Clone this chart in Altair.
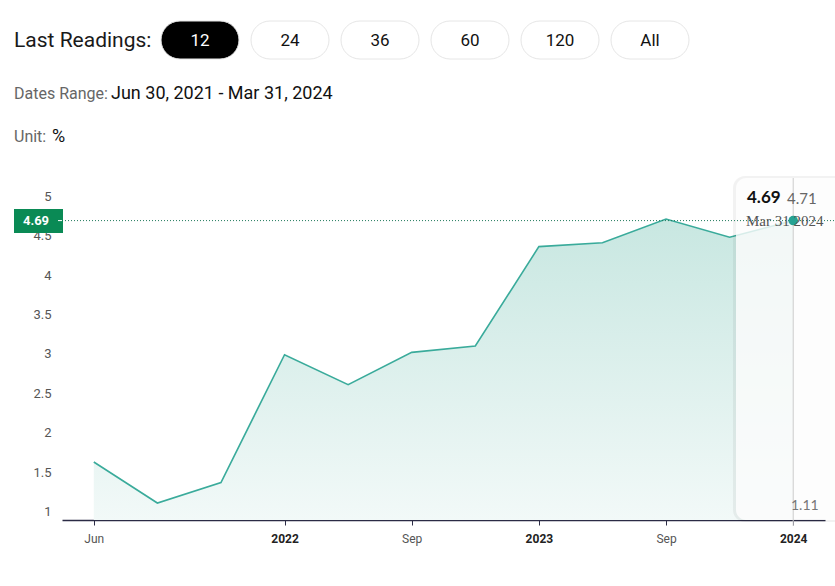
import altair as alt
import pandas as pd

# ---- data ----
dates = ["2021-06-30", "2021-09-30", "2021-12-31", "2022-03-31", "2022-06-30", "2022-09-30",
         "2022-12-31", "2023-03-31", "2023-06-30", "2023-09-30", "2023-12-31", "2024-03-31"]
values = [1.63, 1.11, 1.37, 2.99, 2.61, 3.02, 3.10, 4.36, 4.41, 4.71, 4.48, 4.69]
tick_index = [0, 3, 5, 7, 9, 11]
tick_labels = ["Jun", "2022", "Sep", "2023", "Sep", "2024"]
year_ticks = [3, 7, 11]
y_ticks = [1, 1.5, 2, 2.5, 3, 3.5, 4, 4.5, 5]
buttons = ["12", "24", "36", "60", "120", "All"]

last_value = values[-1]
max_value = max(values)
min_value = min(values)

W, H = 763, 342
LEFT, TOP = 62, 178

df = pd.DataFrame({"date": dates, "value": values})
df["idx"] = range(len(df))

label_map = "{" + ",".join(f"'{i}':'{l}'" for i, l in zip(tick_index, tick_labels)) + "}"
year_test = " || ".join(f"datum.value == {v}" for v in year_ticks)

xscale = alt.Scale(domain=[-0.5, 11.5], nice=False, zero=False)
yscale = alt.Scale(domain=[0.895, 5.23], nice=False, zero=False)

x_enc = alt.X("idx:Q", scale=xscale, axis=alt.Axis(
    values=tick_index, labelExpr=f"{label_map}[datum.value+'']", title=None, grid=False,
    domainColor="#2b2b45", domainWidth=1.5, tickColor="#2b2b45", tickSize=5, tickWidth=1,
    labelFont="Roboto", labelFontSize=12, labelPadding=8,
    labelColor={"condition": {"test": year_test, "value": "#222222"}, "value": "#555555"},
    labelFontWeight={"condition": {"test": year_test, "value": "bold"}, "value": "normal"},
))
y_enc = alt.Y("value:Q", scale=yscale, axis=alt.Axis(
    values=y_ticks, format="~g", title=None, grid=False, domain=False, ticks=False,
    labelFont="Roboto", labelFontSize=13, labelColor="#555555", labelPadding=11,
))

grad = alt.Gradient(gradient="linear",
                    stops=[alt.GradientStop(color="#f2f9f8", offset=0),
                           alt.GradientStop(color="#c8e7e1", offset=1)],
                    x1=1, x2=1, y1=1, y2=0)

base = alt.Chart(df)
area = base.mark_area(color=grad, line=False).encode(x=x_enc, y=y_enc, y2=alt.datum(0.895))
line = base.mark_line(color="#3aab9b", strokeWidth=1.6).encode(x="idx:Q", y="value:Q")

last_df = df.tail(1)

# tooltip panel (single row so only one rect is drawn)
shadow = alt.Chart(last_df).mark_rect(fill="#000000", fillOpacity=0.05, strokeWidth=0, cornerRadius=12).encode(
    x=alt.value(736 - LEFT - 3), x2=alt.value(W + 40), y=alt.value(-2), y2=alt.value(H + 2))
panel = alt.Chart(last_df).mark_rect(fill="#ffffff", fillOpacity=0.8, strokeWidth=0, cornerRadius=10).encode(
    x=alt.value(736 - LEFT), x2=alt.value(W + 40), y=alt.value(0), y2=alt.value(H))

vrule = alt.Chart(last_df).mark_rule(color="#cccccc", strokeWidth=1).encode(
    x="idx:Q", y=alt.value(0), y2=alt.value(H + 6))
hrule = alt.Chart(last_df).mark_rule(color="#1f7a5c", strokeWidth=1, strokeDash=[1, 2]).encode(
    x=alt.value(0), x2=alt.value(W + 20), y="value:Q")
dot = alt.Chart(last_df).mark_point(filled=True, color="#26a293", size=90, opacity=1).encode(
    x="idx:Q", y="value:Q")

tip_main = alt.Chart(last_df).mark_text(font="Lato", fontSize=17, fontWeight="bold", color="#111111",
                                        align="left", baseline="middle").encode(
    x=alt.value(747 - LEFT), y=alt.value(198 - TOP), text=alt.Text("value:Q", format=".2f"))
tip_max = alt.Chart(pd.DataFrame({"v": [max_value]})).mark_text(
    font="Lato", fontSize=15, color="#666666", align="left", baseline="middle").encode(
    x=alt.value(787 - LEFT), y=alt.value(199 - TOP), text=alt.Text("v:Q", format=".2f"))
tip_date = alt.Chart(pd.DataFrame({"t": ["Mar 31 2024"]})).mark_text(
    font="Liberation Serif", fontSize=15, color="#555555", align="left", baseline="middle").encode(
    x=alt.value(746 - LEFT), y=alt.value(221 - TOP), text="t:N")
tip_min = alt.Chart(pd.DataFrame({"v": [min_value]})).mark_text(
    font="Lato", fontSize=14, color="#777777", align="left", baseline="middle").encode(
    x=alt.value(791 - LEFT), y=alt.value(506 - TOP), text=alt.Text("v:Q", format=".2f"))

# green value badge on the y axis
badge = alt.Chart(last_df).mark_rect(fill="#0a8a55", strokeWidth=0).encode(
    x=alt.value(14 - LEFT), x2=alt.value(63 - LEFT), y=alt.value(209 - TOP), y2=alt.value(233 - TOP))
badge_tick = alt.Chart(last_df).mark_rule(color="#ffffff", strokeWidth=1).encode(
    x=alt.value(58 - LEFT), x2=alt.value(62 - LEFT), y="value:Q")
badge_text = alt.Chart(last_df).mark_text(font="Roboto", fontSize=13, fontWeight="bold", color="#ffffff",
                                          align="center", baseline="middle").encode(
    x=alt.value(36 - LEFT), y=alt.value(221 - TOP), text=alt.Text("value:Q", format=".2f"))

# header
bdf = pd.DataFrame({"label": buttons})
bdf["i"] = range(len(bdf))
btn_base = alt.Chart(bdf).transform_calculate(
    x0=f"161 + datum.i * 90 - {LEFT}", x1=f"239 + datum.i * 90 - {LEFT}",
    xc=f"200 + datum.i * 90 - {LEFT}", active="datum.i == 0")
btn_rect = btn_base.mark_rect(cornerRadius=19, stroke="#e6e6e6", strokeWidth=1).encode(
    x=alt.X("x0:Q", scale=None), x2="x1:Q",
    y=alt.value(21 - TOP), y2=alt.value(59 - TOP),
    fill=alt.condition("datum.active", alt.value("#000000"), alt.value("#ffffff")))
btn_text = btn_base.mark_text(font="Roboto", fontSize=17, align="center", baseline="middle").encode(
    x=alt.X("xc:Q", scale=None), y=alt.value(41 - TOP), text="label:N",
    color=alt.condition("datum.active", alt.value("#ffffff"), alt.value("#111111")))

def txt(s, x, y, size, color, font="Roboto"):
    return alt.Chart(pd.DataFrame({"t": [s]})).mark_text(
        font=font, fontSize=size, color=color, align="left", baseline="middle").encode(
        x=alt.value(x - LEFT), y=alt.value(y - TOP), text="t:N")

hdr = [
    txt("Last Readings:", 14, 41, 21, "#1a1a1a"),
    txt("Dates Range:", 14, 94, 16, "#666666"),
    txt("Jun 30, 2021 - Mar 31, 2024", 111, 94, 18, "#111111"),
    txt("Unit:", 14, 137, 16, "#666666"),
    txt("%", 52, 137, 18, "#111111"),
]

chart = alt.layer(
    area, line, shadow, panel, vrule, hrule, dot, tip_main, tip_max, tip_date, tip_min,
    badge, badge_tick, badge_text, btn_rect, btn_text, *hdr
).properties(
    width=W, height=H,
    autosize=alt.AutoSizeParams(type="none"),
    padding={"left": LEFT, "top": TOP, "right": 835 - LEFT - W, "bottom": 586 - TOP - H},
).configure(background="#ffffff").configure_view(strokeWidth=0)

chart.save("out.html", embed_options={"renderer": "svg", "actions": False})
